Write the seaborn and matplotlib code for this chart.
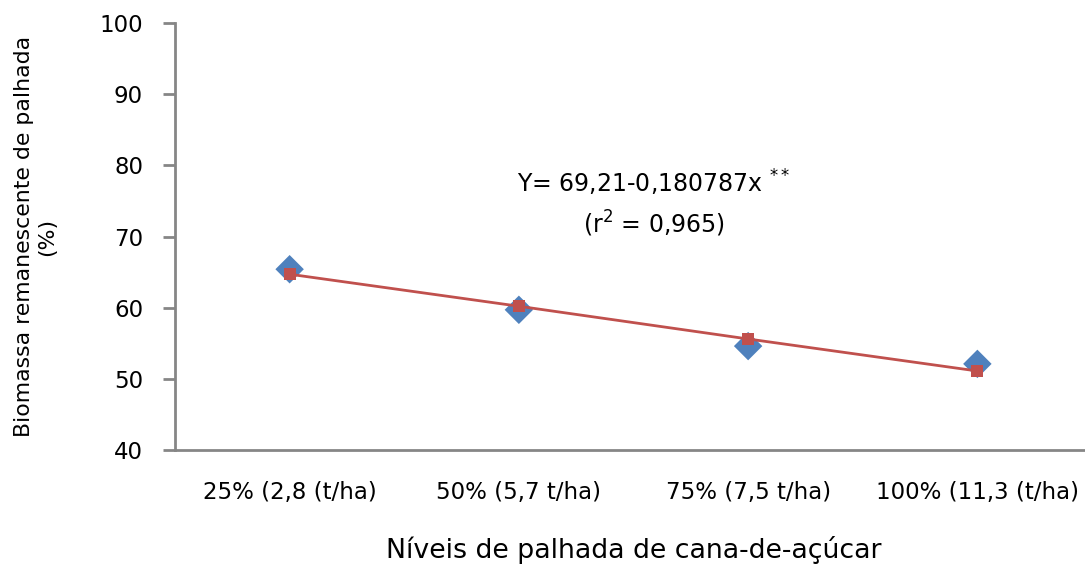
import matplotlib
matplotlib.use("Agg")
import matplotlib.pyplot as plt
import seaborn as sns
import pandas as pd

# Dados
niveis = ['25% (2,8 (t/ha)', '50% (5,7 t/ha)', '75% (7,5 t/ha)', '100% (11,3 (t/ha)']
observado = [65.4, 59.7, 54.6, 52.1]
estimado = [64.7, 60.2, 55.6, 51.1]
y_ticks = [40, 50, 60, 70, 80, 90, 100]

df = pd.DataFrame({'Nivel': niveis, 'Observado': observado, 'Estimado': estimado})

sns.set_style('white')
plt.rcParams['font.family'] = ['DejaVu Sans']
plt.rcParams['text.color'] = 'black'
plt.rcParams['axes.labelcolor'] = 'black'
plt.rcParams['xtick.color'] = 'black'
plt.rcParams['ytick.color'] = 'black'

cinza = '#868686'

fig = plt.figure(figsize=(10.85, 5.65), dpi=100)
ax = fig.add_axes([175 / 1085, 115 / 565, 917 / 1085, 427 / 565])

# Valores observados (losangos azuis)
sns.scatterplot(data=df, x='Nivel', y='Observado', marker='D', s=210,
                color='#4F81BD', edgecolor='none', linewidth=0, ax=ax, zorder=3)
# Reta ajustada (linha e quadrados vermelhos)
sns.lineplot(data=df, x='Nivel', y='Estimado', sort=False, marker='s',
             markersize=8.5, markeredgewidth=0, color='#C0504D', linewidth=2,
             ax=ax, zorder=4)

ax.set_xlim(-0.5, 3.5)
ax.set_ylim(40, 100)
ax.set_yticks(y_ticks)

sns.despine(ax=ax)
for lado in ['left', 'bottom']:
    ax.spines[lado].set_color(cinza)
    ax.spines[lado].set_linewidth(2)

ax.tick_params(axis='y', left=True, length=9, width=2, color=cinza,
               labelcolor='black', pad=14, labelsize=16.5)
ax.tick_params(axis='x', bottom=False, length=0, pad=22, labelsize=16.5,
               labelcolor='black')

ax.set_xlabel('Níveis de palhada de cana-de-açúcar', fontsize=19.3)
ax.xaxis.set_label_coords(0.5, -0.234)
ax.xaxis.label.set_va('center')

ax.set_ylabel('Biomassa remanescente de palhada\n(%)', fontsize=15.8,
              linespacing=1.2)
ax.yaxis.set_label_coords(-0.152, 0.5)
ax.yaxis.label.set_va('center')

# Equação da regressão
ax.text(1.59, 77.6, 'Y= 69,21-0,180787x $^{**}$', fontsize=17,
        ha='center', va='center')
ax.text(1.59, 71.8, '(r$^2$ = 0,965)', fontsize=17, ha='center', va='center')

fig.savefig('out.png', dpi=100)
